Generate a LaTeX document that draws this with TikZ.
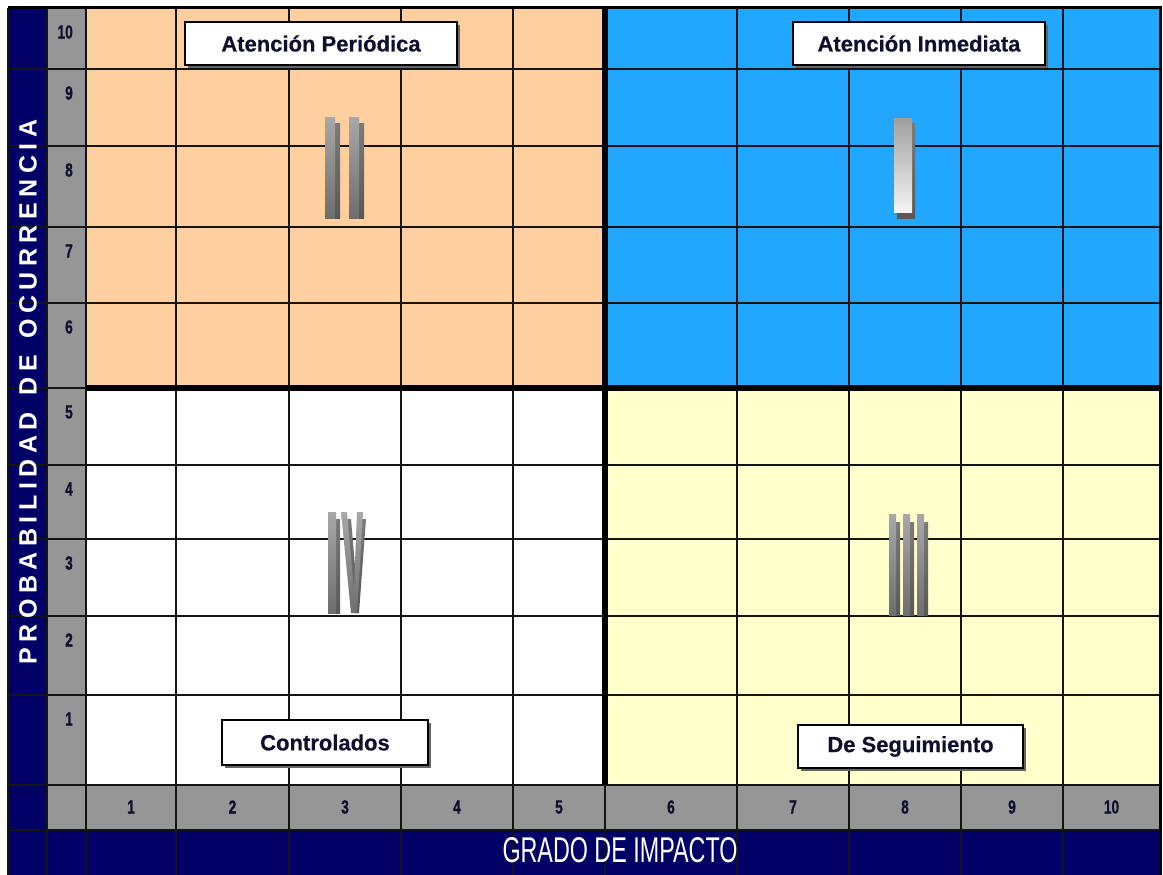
\documentclass[tikz,border=0pt]{standalone}
\usepackage{fontspec}
\setmainfont{Liberation Sans}
\newfontfamily\numfont[UprightFont={* Bold},FakeBold=1.2]{Liberation Sans}
\newfontfamily\lblfont[UprightFont={* Bold},FakeBold=0.5]{Liberation Sans}
\usetikzlibrary{shadows}
\definecolor{navy}{HTML}{000066}
\definecolor{peach}{HTML}{FFCF9F}
\definecolor{skyb}{HTML}{22A7FF}
\definecolor{paley}{HTML}{FFFFCC}
\definecolor{cellgray}{HTML}{969696}
\definecolor{numc}{HTML}{10102E}
\definecolor{gridc}{HTML}{141414}
\definecolor{barA}{HTML}{A8A8A8}
\definecolor{barB}{HTML}{6E6E6E}
\definecolor{shdA}{HTML}{7A7A7A}
\definecolor{shdB}{HTML}{585858}
\definecolor{barW}{HTML}{F4F4F4}
\begin{document}
\begin{tikzpicture}[x=1pt,y=-1pt,
  gridline/.style={draw=gridc, line width=1.6pt},
  thickline/.style={draw=black, line width=6pt},
  labelbox/.style={draw=black, line width=1.4pt, fill=white, inner sep=0pt,
    minimum height=43pt, font=\fontsize{22}{22}\selectfont\lblfont, text=numc,
    drop shadow={shadow xshift=3pt, shadow yshift=-3pt, fill=black!60, opacity=1}},
  numlbl/.style={inner sep=0pt, text=numc, font=\fontsize{19}{19}\selectfont\numfont},
  front/.style={top color=barA, bottom color=barB},
  backs/.style={top color=shdA, bottom color=shdB}]
\useasboundingbox (0,0) rectangle (1163,875);
\fill[white] (0,0) rectangle (1163,875);
% fills
\fill[peach] (86,8) rectangle (605,388);
\fill[skyb] (605,8) rectangle (1160,388);
\fill[white] (86,388) rectangle (605,785);
\fill[paley] (605,388) rectangle (1160,785);
\fill[cellgray] (47,8) rectangle (86,830);
\fill[cellgray] (47,785) rectangle (1160,830);
\fill[navy] (8,8) rectangle (47,875);
\fill[navy] (8,830) rectangle (1160,875);
% grid lines
\foreach \x in {8,47,86,176,289,401,513,605,737,849,961,1063,1160}
  \draw[gridline] (\x,8) -- (\x,875);
\foreach \y in {8,69,146,227,303,388,465,539,616,695,785,830}
  \draw[gridline] (8,\y) -- (1160,\y);
\draw[draw=black, line width=3pt] (8,8) -- (1160,8) -- (1160,875);
% thick quadrant lines
\draw[thickline] (605,8) -- (605,785);
\draw[thickline] (86,388) -- (1160,388);
% row numbers
\foreach \n/\y in {10/8,9/69,8/146,7/227,6/303,5/388,4/465,3/539,2/616,1/695}
  \node[numlbl, anchor=east] (r\n) at (73,\y+24) {\scalebox{0.72}[1]{\n}};
% column numbers
\foreach \n/\a/\b in {1/86/176,2/176/289,3/289/401,4/401/513,5/513/605,6/605/737,7/737/849,8/849/961,9/961/1063,10/1063/1160}
  \node[numlbl] (c\n) at ({(\a+\b)/2},807) {\scalebox{0.72}[1]{\n}};
% axis titles
\node[inner sep=0pt, text=white, rotate=90, font=\fontsize{25}{25}\selectfont\bfseries] (ylab) at (28,392)
  {\makebox[545pt]{P\hfill R\hfill O\hfill B\hfill A\hfill B\hfill I\hfill L\hfill I\hfill D\hfill A\hfill D\hfill\hfill\hfill D\hfill E\hfill\hfill\hfill O\hfill C\hfill U\hfill R\hfill R\hfill E\hfill N\hfill C\hfill I\hfill A}};
\node[inner sep=0pt, text=white] (xlab) at (620,850) {\resizebox{235pt}{25pt}{GRADO DE IMPACTO}};
% quadrant labels
\node[labelbox, minimum width=272pt] (lblII) at (321,43.5) {Atención Periódica};
\node[labelbox, minimum width=252pt] (lblI) at (919,43.5) {Atención Inmediata};
\node[labelbox, minimum width=206pt, minimum height=45pt] (lblIV) at (325,742.5) {Controlados};
\node[labelbox, minimum width=225pt] (lblIII) at (910.5,746.5) {De Seguimiento};
% numeral II
\foreach \x in {325,349} {
  \shade[backs] (\x+9,123) rectangle (\x+15,218);
  \shade[front] (\x,117) rectangle (\x+10,218);
}
% numeral I
\shade[top color=shdA, bottom color=shdB] (897,123) rectangle (915,218);
\shade[top color=barA!95!black, bottom color=barW] (894,118) rectangle (912,212);
% numeral III
\foreach \x in {889,903,917} {
  \shade[backs] (\x+6,522) rectangle (\x+11,615);
  \shade[front] (\x,514) rectangle (\x+7,615);
}
% numeral IV
\shade[backs] (335,519) rectangle (340,613);
\shade[front] (328,512) rectangle (336,613);
\shade[backs] (346,519) -- (351,519) -- (359,613) -- (355,613) -- cycle;
\shade[front] (341,512) -- (347,512) -- (356,613) -- (351,613) -- cycle;
\shade[backs] (362,519) -- (366,519) -- (359,613) -- (356,613) -- cycle;
\shade[front] (357,512) -- (363,512) -- (357,613) -- (353,613) -- cycle;
\end{tikzpicture}
\end{document}
